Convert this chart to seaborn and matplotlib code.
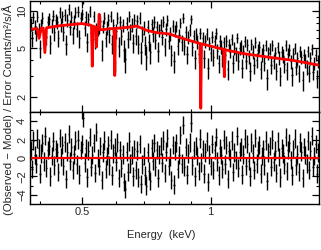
import numpy as np
import seaborn as sns
import matplotlib.pyplot as plt
from matplotlib.ticker import FixedLocator, FixedFormatter, NullFormatter

# model curve (keV, counts/m^2/s/A), continuum plus narrow absorption lines
model_energy = [0.3785, 0.393, 0.3975, 0.402, 0.4065, 0.410, 0.4135, 0.445, 0.500,
                0.523, 0.5268, 0.529, 0.5312, 0.5385, 0.541, 0.5435, 0.5472, 0.549,
                0.5508, 0.561, 0.582, 0.5945, 0.597, 0.5995, 0.614, 0.648, 0.672,
                0.709, 0.748, 0.803, 0.848, 0.9445, 0.948, 0.9515, 1.068, 1.072,
                1.076, 1.080, 1.190, 1.353, 1.556, 1.790]
model_flux = [7.1, 7.2, 6.0, 7.25, 7.28, 4.6, 7.3, 7.6, 7.9,
              7.7, 7.6, 3.57, 7.55, 7.4, 5.1, 7.3, 7.2, 9.4,
              7.05, 7.05, 7.18, 7.2, 3.0, 7.22, 7.27, 7.40, 7.54,
              6.96, 6.67, 6.5, 6.08, 5.44, 1.63, 5.42, 4.9, 4.88,
              2.93, 4.85, 4.52, 4.24, 3.98, 3.64]

# residuals (observed - model) / error, one per spectral bin, read left to right
residual = [
    0.8, -1.2, 1.9, 0.3, -0.6, 2.1, 1.1, -1.7, 0.5, 1.6, -0.4, 2.4, -1.1, 0.9, 1.3, -2.0, 0.2, 1.8, -0.8, 1.0,
    0.6, -1.5, 2.2, 0.1, 1.4, -0.9, 1.7, -2.3, 0.7, 2.6, -0.3, 1.2, -1.3, 0.4, 1.9, -0.7, 2.0, -1.8, 0.9, 1.5,
    4.4, -0.5, 1.1, -2.1, 0.8, 2.3, -1.0, 0.3, 1.6, -1.6, 2.8, 0.0, -0.9, 1.3, -2.4, 0.6, 1.9, -1.2, 0.2, 1.4,
    -0.8, 2.0, -1.9, 0.5, 1.2, -0.4, 1.7, -2.2, 0.9, -1.1, 0.4, -2.6, -3.4, 0.7, -1.5, 1.8, -0.6, 0.3, -2.0, 1.0,
    -1.3, 0.8, -2.1, 1.5, -2.8, -0.7, 0.2, -1.9, -3.0, 0.6, -1.4, -2.5, 1.1, -0.3, 1.6, -1.0, 0.9, -2.2, 0.4, 1.3,
    -0.5, 1.9, -1.6, 0.7, 2.2, -0.9, 0.1, -2.4, 1.4, -2.9, 0.8, 1.6, -1.2, 0.3, 2.5, -0.6, 3.6, -1.0, 1.2, -1.8,
    0.5, 1.7, 3.8, -0.8, 0.9, -2.0, 1.3, 0.2, -1.4, 2.1, -0.5, 1.0, -1.7, 0.6, 1.8, -2.6, 0.4, -0.9, 1.5, -1.3,
    0.9, 2.3, -0.4, -1.9, 1.1, 0.3, -1.2, 2.0, -0.7, 1.4, -2.3, 0.8, 0.0, 1.9, -1.5, 0.6, -0.2, 2.4, -1.1, 0.7,
    1.2, -1.8, 0.4, 2.1, -0.9, 1.5, -0.3, -2.0, 1.7, 0.5, -1.3, 2.2, -0.6, 0.9, 1.4, -1.7, 0.2, 1.0, -0.8, 1.9,
    -2.5, 0.6, 1.3, -1.0, 2.0, -0.4, 0.8, -1.6, 1.8, 0.1, -2.1, 1.1, 0.5, -0.7, 2.3, -1.4, 0.9, 1.6, -0.2, -1.9,
    1.0, 2.1, -0.8, 0.4, -1.5, 1.7, 0.7, -2.2, 1.2, 0.3, -0.6, 1.9, -1.3, 0.8, 2.4, -1.0, 0.2, 1.5, -1.7, 0.6,
]
frac_err = 0.13

x_lim = (0.3785, 1.790)
top_ylim = (1.52, 12.15)
bot_ylim = (-5, 5)
x_major = [0.5, 1]
x_major_labels = ["0.5", "1"]
x_minor = [0.4, 0.6, 0.7, 0.8, 0.9]
top_major = [2, 5, 10]
top_major_labels = ["2", "5", "10"]
top_minor = [3, 4, 6, 7, 8, 9]
bot_major = [-4, -2, 0, 2, 4]
bot_major_labels = ["\u22124", "\u22122", "0", "2", "4"]
bot_minor = [-3, -1, 1, 3]

# spectral bins, evenly spaced in log energy
n_bins = len(residual)
edges = np.geomspace(x_lim[0], x_lim[1], n_bins + 1)
energy = np.sqrt(edges[:-1] * edges[1:])
model_at_bin = np.exp(np.interp(np.log(energy), np.log(model_energy), np.log(model_flux)))
resid = np.array(residual)
err = model_at_bin * frac_err
flux = model_at_bin + resid * err

sns.set_theme(style="ticks")
plt.rcParams["font.family"] = ["Liberation Sans", "DejaVu Sans"]

fig = plt.figure(figsize=(3.21, 2.5), dpi=100)
ax1 = fig.add_axes([30 / 321, 138 / 250, 289 / 321, 111.5 / 250])
ax2 = fig.add_axes([30 / 321, 46 / 250, 289 / 321, 92 / 250])

# top panel: data with error bars and model
ax1.vlines(energy, flux - err, flux + err, color="black", lw=1.0)
ax1.hlines(flux, edges[:-1], edges[1:], color="black", lw=1.0)
sns.lineplot(x=model_energy, y=model_flux, ax=ax1, color="#ff0000", lw=2,
             sort=False, estimator=None, zorder=5)

# bottom panel: residuals
ax2.vlines(energy, resid - 1, resid + 1, color="black", lw=1.0)
ax2.hlines(resid, edges[:-1], edges[1:], color="black", lw=1.0)
ax2.axhline(0, color="#ff0000", lw=1.6, zorder=5)

for ax in (ax1, ax2):
    ax.set_xscale("log")
    ax.set_xlim(*x_lim)
    ax.xaxis.set_major_locator(FixedLocator(x_major))
    ax.xaxis.set_minor_locator(FixedLocator(x_minor))
    ax.xaxis.set_minor_formatter(NullFormatter())
    ax.tick_params(which="both", direction="in", top=True, right=True,
                   bottom=True, left=True, color="black", labelsize=8, pad=2)
    ax.tick_params(which="major", length=5, width=0.9)
    ax.tick_params(which="minor", length=2.5, width=0.8)
    for s in ax.spines.values():
        s.set_linewidth(1.0)
        s.set_color("black")
        s.set_zorder(6)
    ax.set_xlabel("")
    ax.set_ylabel("")

ax1.set_yscale("log")
ax1.set_ylim(*top_ylim)
ax1.yaxis.set_major_locator(FixedLocator(top_major))
ax1.yaxis.set_major_formatter(FixedFormatter(top_major_labels))
ax1.yaxis.set_minor_locator(FixedLocator(top_minor))
ax1.yaxis.set_minor_formatter(NullFormatter())
ax1.xaxis.set_major_formatter(NullFormatter())

ax2.set_ylim(*bot_ylim)
ax2.yaxis.set_major_locator(FixedLocator(bot_major))
ax2.yaxis.set_major_formatter(FixedFormatter(bot_major_labels))
ax2.yaxis.set_minor_locator(FixedLocator(bot_minor))
ax2.xaxis.set_major_formatter(FixedFormatter(x_major_labels))

for ax in (ax1, ax2):
    plt.setp(ax.get_yticklabels(), rotation=90, va="center", ha="right")

fig.text(161 / 321, 15 / 250, "Energy  (keV)", ha="center", va="center", fontsize=8)
fig.text(8 / 321, 140 / 250, "(Observed \u2212 Model) / Error Counts/m\u00b2/s/\u00c5",
         rotation=90, ha="center", va="center", fontsize=8.2)

fig.savefig("out.png", dpi=100)
